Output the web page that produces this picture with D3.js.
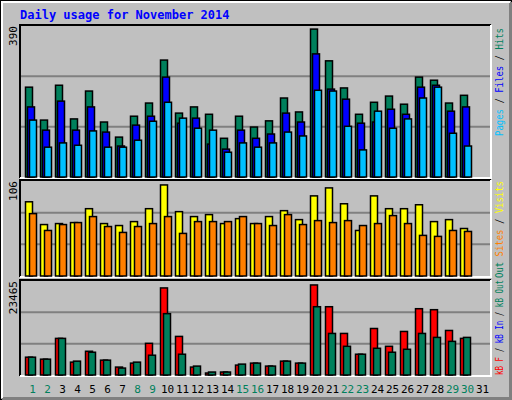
<!DOCTYPE html>
<html lang="en">
<head>
<meta charset="UTF-8">
<title>Daily usage</title>
<script src="https://d3js.org/d3.v7.min.js"></script>
<style>
  body { margin: 0; background: #fff; }
  svg text { font-family: "DejaVu Sans Mono", monospace; }
</style>
</head>
<body>
<svg id="chart" width="512" height="400"></svg>
<script>
const days = d3.range(1, 32);
const weekend = [1, 2, 8, 9, 15, 16, 22, 23, 29, 30];
const hits  = [232,147,237,150,222,142,103,157,191,302,165,181,162,100,157,129,145,204,168,382,300,230,162,193,209,188,258,250,191,211,0];
const files = [181,121,196,121,181,116,80,134,157,258,139,152,85,72,121,100,111,165,142,318,227,201,139,142,175,162,232,237,170,181,0];
const pages = [147,77,88,82,119,77,77,95,144,193,152,126,121,64,88,77,88,116,106,224,222,131,70,170,126,150,204,232,113,80,0];
const visits = [82.8,57.4,58.5,59.6,75.1,58.5,56.3,60.7,75.1,101.6,71.8,66.3,68.5,58.5,64,58.5,66.3,72.9,62.9,89.4,98.3,80.6,50.8,89.4,75.1,75.1,79.5,60.7,62.9,53,0];
const sites = [69.6,50.8,57.4,59.6,66.3,55.2,48.6,55.2,58.5,66.3,47.5,60.7,60.7,60.7,66.3,58.5,56.3,68.5,57.4,61.8,59.6,61.8,56.3,58.5,67.4,58.5,45.3,44.2,50.8,49.7,0];
const kbF = [4446,3952,9139,3211,5928,3705,1976,2964,7904,21736,9633,1976,494,741,2470,2964,2223,3458,2964,22477,17043,10374,5187,11609,7163,10868,16549,16302,11115,9139,0];
const kbOut = [4446,3952,9139,3458,5681,3705,1729,3211,4940,15314,5187,2223,741,741,2717,2964,2223,3458,2964,17043,10374,7163,5187,6669,5681,6422,10374,9386,8398,9386,0];
const maxHits = 390, maxVisits = 106, maxKb = 23465;

const svg = d3.select("#chart");
const left = 20, right = 491;

// frame
svg.append("rect").attr("x", 0.5).attr("y", 0.5).attr("width", 511).attr("height", 399)
  .attr("fill", "#c0c0c0").attr("stroke", "#000");
svg.append("path").attr("d", "M510.5,2 V398.5 H2").attr("fill", "none").attr("stroke", "#808080").attr("stroke-width", 3);
svg.append("path").attr("d", "M2,398 V2 H510").attr("fill", "none").attr("stroke", "#fff").attr("stroke-width", 2);

svg.append("text").attr("x", 20).attr("y", 19).text("Daily usage for November 2014")
  .attr("fill", "#0000ff").attr("font-size", 12).attr("font-weight", "bold");

const x = d3.scaleLinear().domain([1, 31]).range([25.5, 475.5]);

function panel(top, bottom, maxVal, label, series, legend, legStart, legLen) {
  const y = d3.scaleLinear().domain([0, maxVal]).range([bottom, top]);
  const g = svg.append("g");
  g.append("path").attr("d", `M${left},${bottom + 1} V${top - 1} H${right}`).attr("fill", "none").attr("stroke", "#000").attr("stroke-width", 2);
  g.append("path").attr("d", `M${right},${top - 1} V${bottom + 1} H${left}`).attr("fill", "none").attr("stroke", "#fff").attr("stroke-width", 2);
  [maxVal / 3, maxVal * 2 / 3].forEach(v => {
    g.append("line").attr("x1", left + 1).attr("x2", right - 1).attr("y1", y(v)).attr("y2", y(v))
      .attr("stroke", "#808080").attr("stroke-width", 2);
  });
  series.forEach(s => {
    g.selectAll(null).data(days.filter((d, i) => s.values[i] > 0)).join("rect")
      .attr("x", d => x(d) + s.dx).attr("width", s.w)
      .attr("y", d => y(s.values[d - 1])).attr("height", d => bottom - y(s.values[d - 1]))
      .attr("fill", s.color).attr("stroke", "#000").attr("stroke-width", 1.5);
  });
  g.append("text").attr("transform", `translate(17,${top}) rotate(-90)`).attr("text-anchor", "end")
    .attr("font-size", 11).text(label);
  const lg = g.append("text").attr("transform", `translate(503,${legStart}) rotate(-90)`).attr("text-anchor", "end")
    .attr("font-size", 10).attr("textLength", legLen).attr("lengthAdjust", "spacingAndGlyphs");
  legend.forEach(l => lg.append("tspan").attr("fill", l.color).text(l.text));
}

panel(26, 177, maxHits, "390", [
  { values: hits, color: "#00805c", dx: 0, w: 7 },
  { values: files, color: "#0000ff", dx: 2, w: 7 },
  { values: pages, color: "#00c0ff", dx: 4, w: 7 }
], [{ text: "Pages", color: "#00c0ff" }, { text: " / ", color: "#000" }, { text: "Files", color: "#0000ff" },
    { text: " / ", color: "#000" }, { text: "Hits", color: "#00805c" }], 28, 108);

panel(181, 276, maxVisits, "106", [
  { values: visits, color: "#ffff00", dx: 0, w: 7 },
  { values: sites, color: "#ff8000", dx: 4, w: 7 }
], [{ text: "Out ", color: "#00805c" }, { text: "Sites", color: "#ff8000" }, { text: " / ", color: "#000" },
    { text: "Visits", color: "#ffff00" }], 181, 97);

panel(281, 375, maxKb, "23465", [
  { values: kbF, color: "#ff0000", dx: 0, w: 7 },
  { values: kbOut, color: "#00805c", dx: 3, w: 7 }
], [{ text: "kB F", color: "#ff0000" }, { text: " / ", color: "#000" }, { text: "kB In", color: "#0000ff" },
    { text: " / ", color: "#000" }, { text: "kB Out", color: "#00805c" }], 280, 95);

svg.selectAll(".day").data(days).join("text")
  .attr("x", d => x(d) + 7).attr("y", 393).attr("text-anchor", "middle").attr("font-size", 11)
  .attr("fill", d => weekend.includes(d) ? "#00805c" : "#000").text(d => d);
</script>
</body>
</html>
